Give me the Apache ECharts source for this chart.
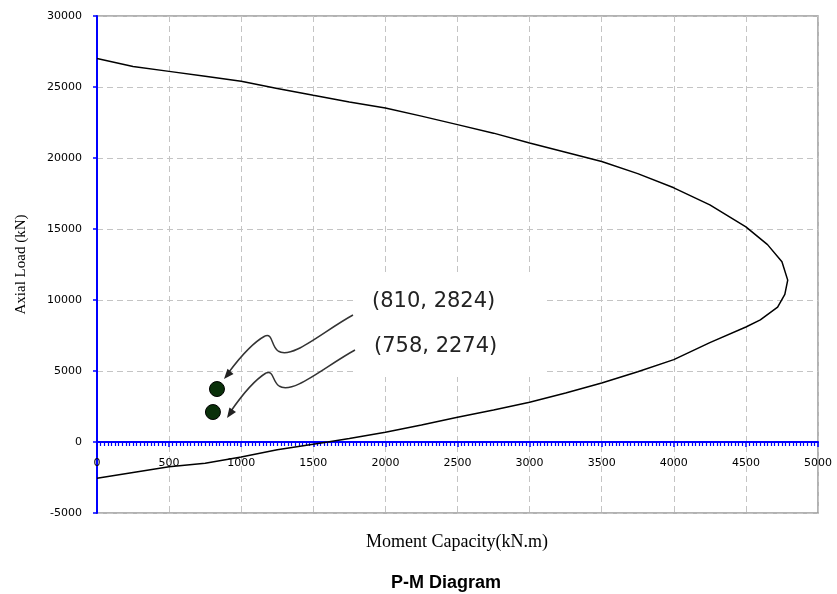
<!DOCTYPE html>
<html><head><meta charset="utf-8">
<script src="https://cdn.jsdelivr.net/npm/echarts@6/dist/echarts.min.js"></script>
<style>html,body{margin:0;padding:0;background:#fff}#c{width:837px;height:594px}</style>
</head><body><div id="c"></div>
<script>
// P-M interaction curve (moment kN.m, axial load kN), traced top -> tip -> bottom
const momentCapacity = [0, 250, 500, 750, 1000, 1250, 1500, 1750, 2000, 2250, 2500, 2750, 3000, 3250, 3500, 3750, 4000, 4250, 4500, 4650, 4750, 4790, 4770, 4720, 4600, 4500, 4250, 4000, 3750, 3500, 3250, 3000, 2750, 2500, 2250, 2000, 1750, 1600, 1250, 1000, 750, 500, 250, 0];
const axialLoad      = [27000, 26450, 26100, 25750, 25400, 24900, 24420, 23950, 23520, 22950, 22350, 21750, 21050, 20400, 19750, 18900, 17900, 16700, 15150, 13900, 12700, 11400, 10400, 9500, 8600, 8100, 7000, 5800, 4950, 4150, 3450, 2800, 2250, 1750, 1200, 680, 250, 0, -550, -1050, -1500, -1750, -2150, -2550];
// Load points as drawn
const pointMoment = [832, 804];
const pointAxial = [3730, 2110];
const pointLabels = ['(810, 2824)', '(758, 2274)'];
// Axis ticks
const xTickLabels = ['0', '500', '1000', '1500', '2000', '2500', '3000', '3500', '4000', '4500', '5000'];
const yTickLabels = ['-5000', '0', '5000', '10000', '15000', '20000', '25000', '30000'];
const xStep = 500, yStep = 5000;
const xAxisName = 'Moment Capacity(kN.m)';
const yAxisName = 'Axial Load (kN)';
const chartTitle = 'P-M Diagram';

const gridTop = 16, gridBottom = 81, chartH = 594;
const yMin = -yStep, yMax = yStep * (yTickLabels.length - 2);
// shift the x axis (line, ticks, labels) up so it sits on the P = 0 line
const plotH = chartH - gridTop - gridBottom;
const zeroOffset = -Math.round((0 - yMin) / (yMax - yMin) * plotH);

const chart = echarts.init(document.getElementById('c'), null, {renderer: 'canvas'});
const curve = momentCapacity.map((m, i) => [m, axialLoad[i]]);
const pts = pointMoment.map((m, i) => [m, pointAxial[i]]);
const tickFont = {fontFamily: 'DejaVu Sans', fontSize: 11, color: '#000'};
const gridLine = {show: true, lineStyle: {color: '#c4c4c4', width: 1, type: [6, 4]}};

function bez(p) {
  return {type: 'bezierCurve', z: 5, silent: true,
    shape: {x1: p[0], y1: p[1], cpx1: p[2], cpy1: p[3], cpx2: p[4], cpy2: p[5], x2: p[6], y2: p[7]},
    style: {fill: null, stroke: '#333', lineWidth: 1.5}};
}

chart.setOption({
  animation: false,
  backgroundColor: '#fff',
  grid: {left: 97, right: 19, top: gridTop, bottom: gridBottom, show: true, borderColor: '#999', borderWidth: 1.5, outerBoundsMode: 'none'},
  xAxis: {
    type: 'value', min: 0, max: xStep * (xTickLabels.length - 1), interval: xStep,
    offset: zeroOffset,
    axisLine: {onZero: false, lineStyle: {color: '#0000ff', width: 2}},
    axisTick: {show: true, length: 5, lineStyle: {color: '#0000ff', width: 1.5}},
    minorTick: {show: true, splitNumber: 20, length: 4, lineStyle: {color: '#0000ff', width: 1.2}},
    axisLabel: Object.assign({margin: 16, formatter: v => xTickLabels[Math.round(v / xStep)]}, tickFont),
    splitLine: gridLine
  },
  yAxis: {
    type: 'value', min: yMin, max: yMax, interval: yStep,
    name: yAxisName, nameLocation: 'middle', nameGap: 68, nameRotate: 90,
    nameTextStyle: {fontFamily: 'Liberation Serif', fontSize: 15, color: '#000'},
    axisLine: {show: true, onZero: false, lineStyle: {color: '#0000ff', width: 2}},
    axisTick: {show: true, length: 4, lineStyle: {color: '#0000ff', width: 1.5}},
    axisLabel: Object.assign({margin: 15, formatter: v => yTickLabels[Math.round(v / yStep) + 1]}, tickFont),
    splitLine: gridLine
  },
  series: [
    {type: 'line', data: curve, showSymbol: false, symbol: 'none', lineStyle: {color: '#000', width: 1.5}, z: 3},
    {type: 'scatter', data: pts, symbol: 'circle', symbolSize: 15,
     itemStyle: {color: '#0a300a', borderColor: '#000', borderWidth: 1, opacity: 1}, z: 4}
  ],
  graphic: [
    {type: 'text', x: 457, y: 542, z: 5, silent: true,
     style: {text: xAxisName, font: '18px "Liberation Serif"', fill: '#000', align: 'center', verticalAlign: 'middle'}},
    {type: 'text', x: 446, y: 583, z: 5, silent: true,
     style: {text: chartTitle, font: 'bold 18px "Liberation Sans"', fill: '#000', align: 'center', verticalAlign: 'middle'}},
    {type: 'rect', shape: {x: 355, y: 273, width: 190, height: 104}, style: {fill: '#fff'}, z: 1, silent: true},
    {type: 'text', x: 372, y: 291, z: 5, style: {text: pointLabels[0], font: '21px "DejaVu Sans"', fill: '#222'}},
    {type: 'text', x: 374, y: 336, z: 5, style: {text: pointLabels[1], font: '21px "DejaVu Sans"', fill: '#222'}},
    bez([353, 315, 322, 332, 292, 360, 278, 351]),
    bez([278, 351, 271, 346, 273, 333, 265, 336]),
    bez([265, 336, 252, 343, 238, 360, 229, 372]),
    {type: 'polygon', z: 5, silent: true, shape: {points: [[224, 379], [233.5, 374], [227.5, 368.8]]}, style: {fill: '#222'}},
    bez([355, 350, 324, 367, 293, 395, 279, 386]),
    bez([279, 386, 272, 381, 274, 370, 266, 373]),
    bez([266, 373, 253, 381, 240, 398, 231, 411]),
    {type: 'polygon', z: 5, silent: true, shape: {points: [[227, 418], [236, 412.1], [229.4, 407.5]]}, style: {fill: '#222'}}
  ]
});
</script></body></html>
